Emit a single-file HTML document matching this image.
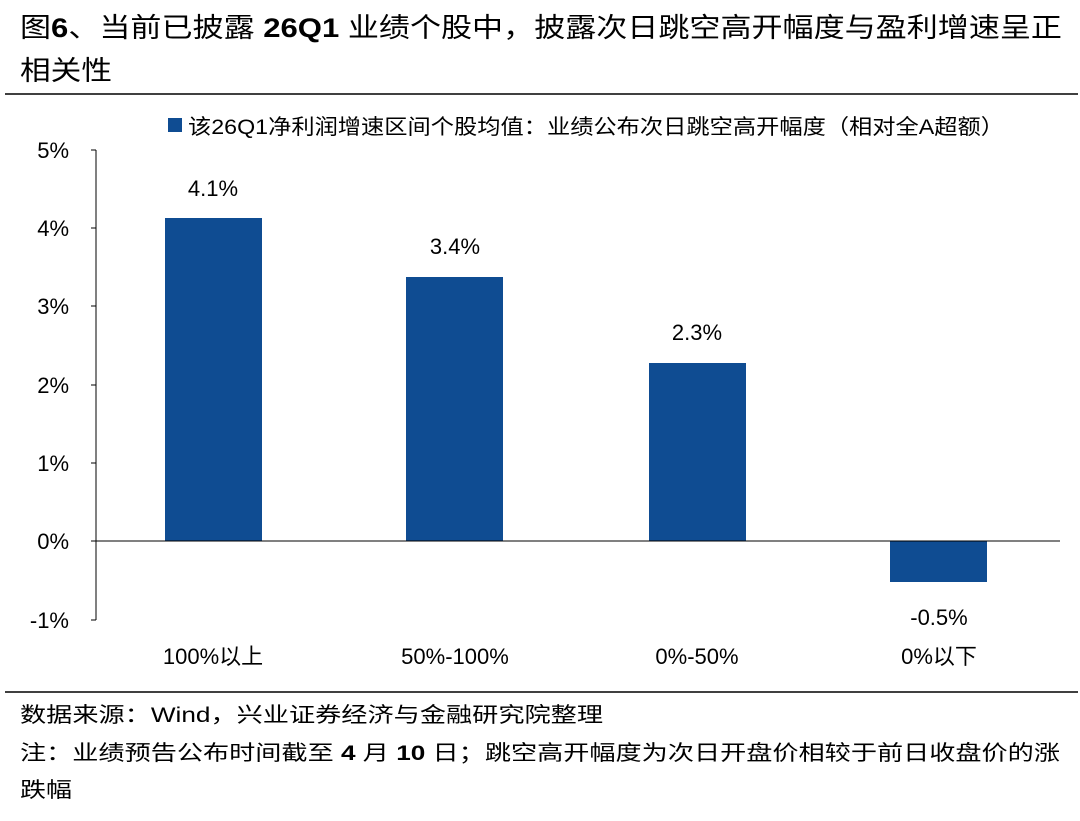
<!DOCTYPE html>
<html><head><meta charset="utf-8"><style>
html,body{margin:0;padding:0;background:#fff;}
svg{display:block;}
text{font-family:"Liberation Sans","Noto Sans CJK SC",sans-serif;fill:#000;}
</style></head><body>
<svg width="1080" height="821" viewBox="0 0 1080 821">
<text x="20" y="37" font-size="27" textLength="1042" lengthAdjust="spacingAndGlyphs">图<tspan font-weight="bold">6</tspan>、当前已披露 <tspan font-weight="bold">26Q1</tspan> 业绩个股中，披露次日跳空高开幅度与盈利增速呈正</text>
<text x="20" y="80" font-size="27" textLength="92" lengthAdjust="spacingAndGlyphs">相关性</text>
<line x1="5" y1="94" x2="1078" y2="94" stroke="#000" stroke-width="1.5"/>
<rect x="168" y="118" width="14" height="14" fill="#0f4c92"/>
<text x="188" y="134" font-size="21" textLength="816" lengthAdjust="spacingAndGlyphs">该26Q1净利润增速区间个股均值：业绩公布次日跳空高开幅度（相对全A超额）</text>
<g font-size="22" text-anchor="end">
<text x="69" y="158">5%</text><text x="69" y="236">4%</text><text x="69" y="314">3%</text>
<text x="69" y="393">2%</text><text x="69" y="471">1%</text><text x="69" y="549">0%</text><text x="69" y="628">-1%</text>
</g>
<g stroke="#000" stroke-width="1">
<line x1="96" y1="150" x2="96" y2="620"/>
<line x1="91" y1="150" x2="96" y2="150"/><line x1="91" y1="228" x2="96" y2="228"/><line x1="91" y1="306" x2="96" y2="306"/>
<line x1="91" y1="385" x2="96" y2="385"/><line x1="91" y1="463" x2="96" y2="463"/><line x1="91" y1="541" x2="96" y2="541"/><line x1="91" y1="620" x2="96" y2="620"/>
</g>
<g fill="#0f4c92">
<rect x="165" y="218" width="97" height="323"/>
<rect x="406" y="277" width="97" height="264"/>
<rect x="649" y="363" width="97" height="178"/>
<rect x="890" y="541" width="97" height="41"/>
</g>
<line x1="96" y1="541" x2="1060" y2="541" stroke="#000" stroke-width="1"/>
<g font-size="22" text-anchor="middle">
<text x="213" y="196">4.1%</text><text x="455" y="254">3.4%</text><text x="697" y="340">2.3%</text><text x="939" y="625">-0.5%</text>
<text x="213" y="664">100%以上</text><text x="455" y="664">50%-100%</text><text x="697" y="664">0%-50%</text><text x="939" y="664">0%以下</text>
</g>
<line x1="5" y1="692" x2="1078" y2="692" stroke="#000" stroke-width="1.5"/>
<g font-size="21">
<text x="20" y="722" textLength="583" lengthAdjust="spacingAndGlyphs">数据来源：Wind，兴业证券经济与金融研究院整理</text>
<text x="20" y="760" textLength="1040" lengthAdjust="spacingAndGlyphs">注：业绩预告公布时间截至 <tspan font-weight="bold">4</tspan> 月 <tspan font-weight="bold">10</tspan> 日；跳空高开幅度为次日开盘价相较于前日收盘价的涨</text>
<text x="20" y="797" textLength="52" lengthAdjust="spacingAndGlyphs">跌幅</text>
</g>
</svg>
</body></html>
